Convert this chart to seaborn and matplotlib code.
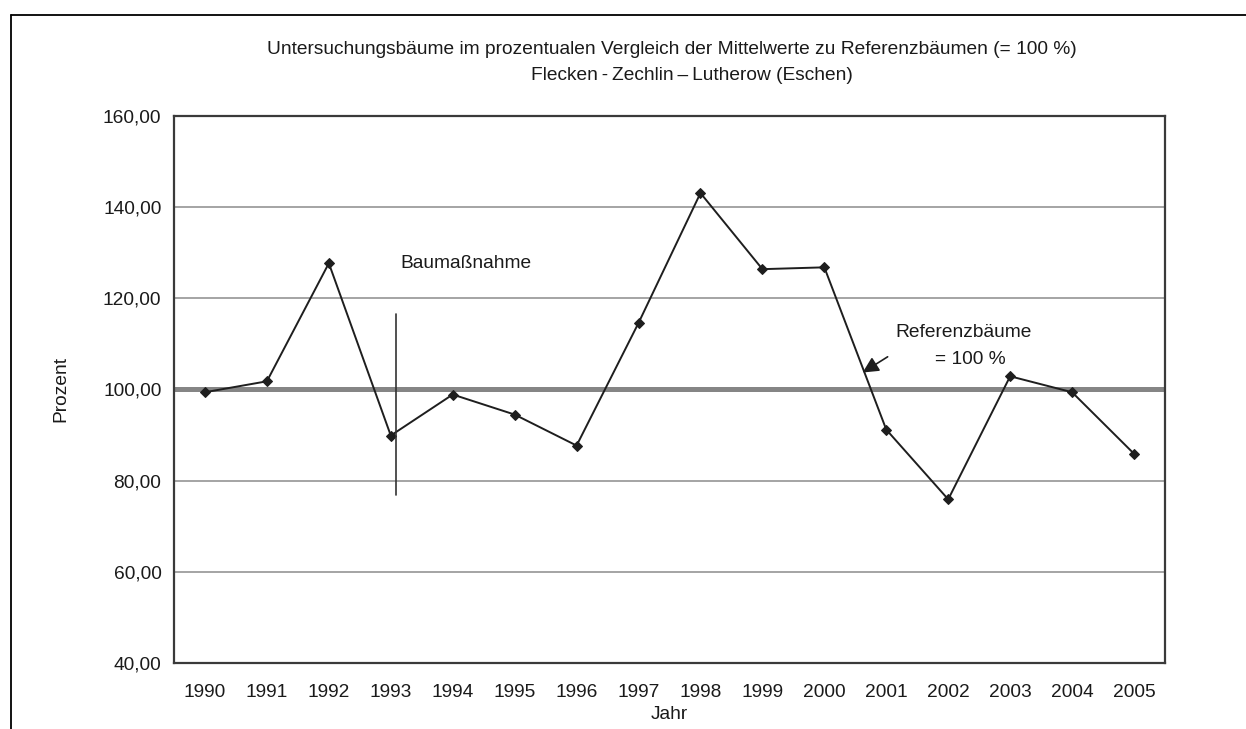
import numpy as np
import pandas as pd
import seaborn as sns
import matplotlib.pyplot as plt
from matplotlib.lines import Line2D
from matplotlib.ticker import FuncFormatter, FixedLocator

# Werte
years = ["1990", "1991", "1992", "1993", "1994", "1995", "1996", "1997",
         "1998", "1999", "2000", "2001", "2002", "2003", "2004", "2005"]
percent = [99.4, 101.8, 127.7, 89.9, 98.9, 94.5, 87.7, 114.6,
           143.1, 126.4, 126.8, 91.2, 75.9, 102.9, 99.4, 85.9]
reference_value = 100
y_ticks = [40, 60, 80, 100, 120, 140, 160]

title = "Untersuchungsbäume im prozentualen Vergleich der Mittelwerte zu Referenzbäumen (= 100 %)"
subtitle = "Flecken\u2009-\u2009Zechlin\u2009\u2013\u2009Lutherow (Eschen)"

df = pd.DataFrame({"Jahr": years, "Prozent": percent})

sns.set_style("white")
plt.rcParams["font.family"] = ["Liberation Sans", "DejaVu Sans"]
plt.rcParams["text.color"] = "#1a1a1a"
fs = 13.8

W, H = 1246, 729
fig = plt.figure(figsize=(W / 100, H / 100), dpi=100)
ax = fig.add_axes([174 / W, 1 - 663 / H, (1165 - 174) / W, (663 - 116) / H])

# Gitterlinien und Referenzlinie
for t in y_ticks[1:-1]:
    ax.axhline(t, color="#8c8c8c", lw=1.1, zorder=1)
ax.axhline(reference_value, color="#858585", lw=3.6, zorder=2)

sns.lineplot(data=df, x="Jahr", y="Prozent", ax=ax, color="#1e1e1e", lw=1.4,
             marker="D", markersize=5.5, markeredgecolor="#1e1e1e", zorder=3)

ax.set_xlim(-0.5, len(years) - 0.5)
ax.set_ylim(40, 160)
ax.yaxis.set_major_locator(FixedLocator(y_ticks))
ax.yaxis.set_major_formatter(FuncFormatter(lambda v, p: f"{v:.2f}".replace(".", ",")))
ax.xaxis.set_minor_locator(FixedLocator(np.arange(-0.5, len(years), 1)))
ax.tick_params(axis="x", which="major", length=0, pad=15, labelsize=fs, labelcolor="#1a1a1a")
ax.tick_params(axis="x", which="minor", length=5, width=1, color="#555555", direction="out")
ax.tick_params(axis="y", length=5, width=1, color="#555555", direction="out", pad=4,
               labelsize=fs, labelcolor="#1a1a1a")
for s in ax.spines.values():
    s.set_color("#3a3a3a")
    s.set_linewidth(1.6)

ax.set_xlabel("Jahr", fontsize=fs, labelpad=4, color="#1a1a1a")
ax.set_ylabel("Prozent", fontsize=fs, labelpad=24, color="#1a1a1a")

# Baumaßnahme
ax.plot([3.09, 3.09], [76.8, 116.5], color="#333333", lw=1.2, zorder=3)
ax.text(4.22, 127.7, "Baumaßnahme", fontsize=fs, ha="center", va="center")

# Referenzbäume
ax.annotate("", xy=(10.58, 103.4), xytext=(11.06, 107.5),
            arrowprops=dict(arrowstyle="-|>", color="#1e1e1e", lw=1.2, mutation_scale=24))
ax.text(12.25, 112.6, "Referenzbäume", fontsize=fs, ha="center", va="center")
ax.text(12.36, 106.6, "= 100 %", fontsize=fs, ha="center", va="center")

fig.text(672 / W, 1 - 49 / H, title, fontsize=fs, ha="center", va="center")
fig.text(692 / W, 1 - 76 / H, subtitle, fontsize=fs, ha="center", va="center")

# äußerer Rahmen
fig.add_artist(Line2D([11 / W, 1], [1 - 15 / H, 1 - 15 / H], color="black", lw=1.3))
fig.add_artist(Line2D([11 / W, 11 / W], [0, 1 - 15 / H], color="black", lw=1.3))

fig.savefig("out.png", dpi=100)
